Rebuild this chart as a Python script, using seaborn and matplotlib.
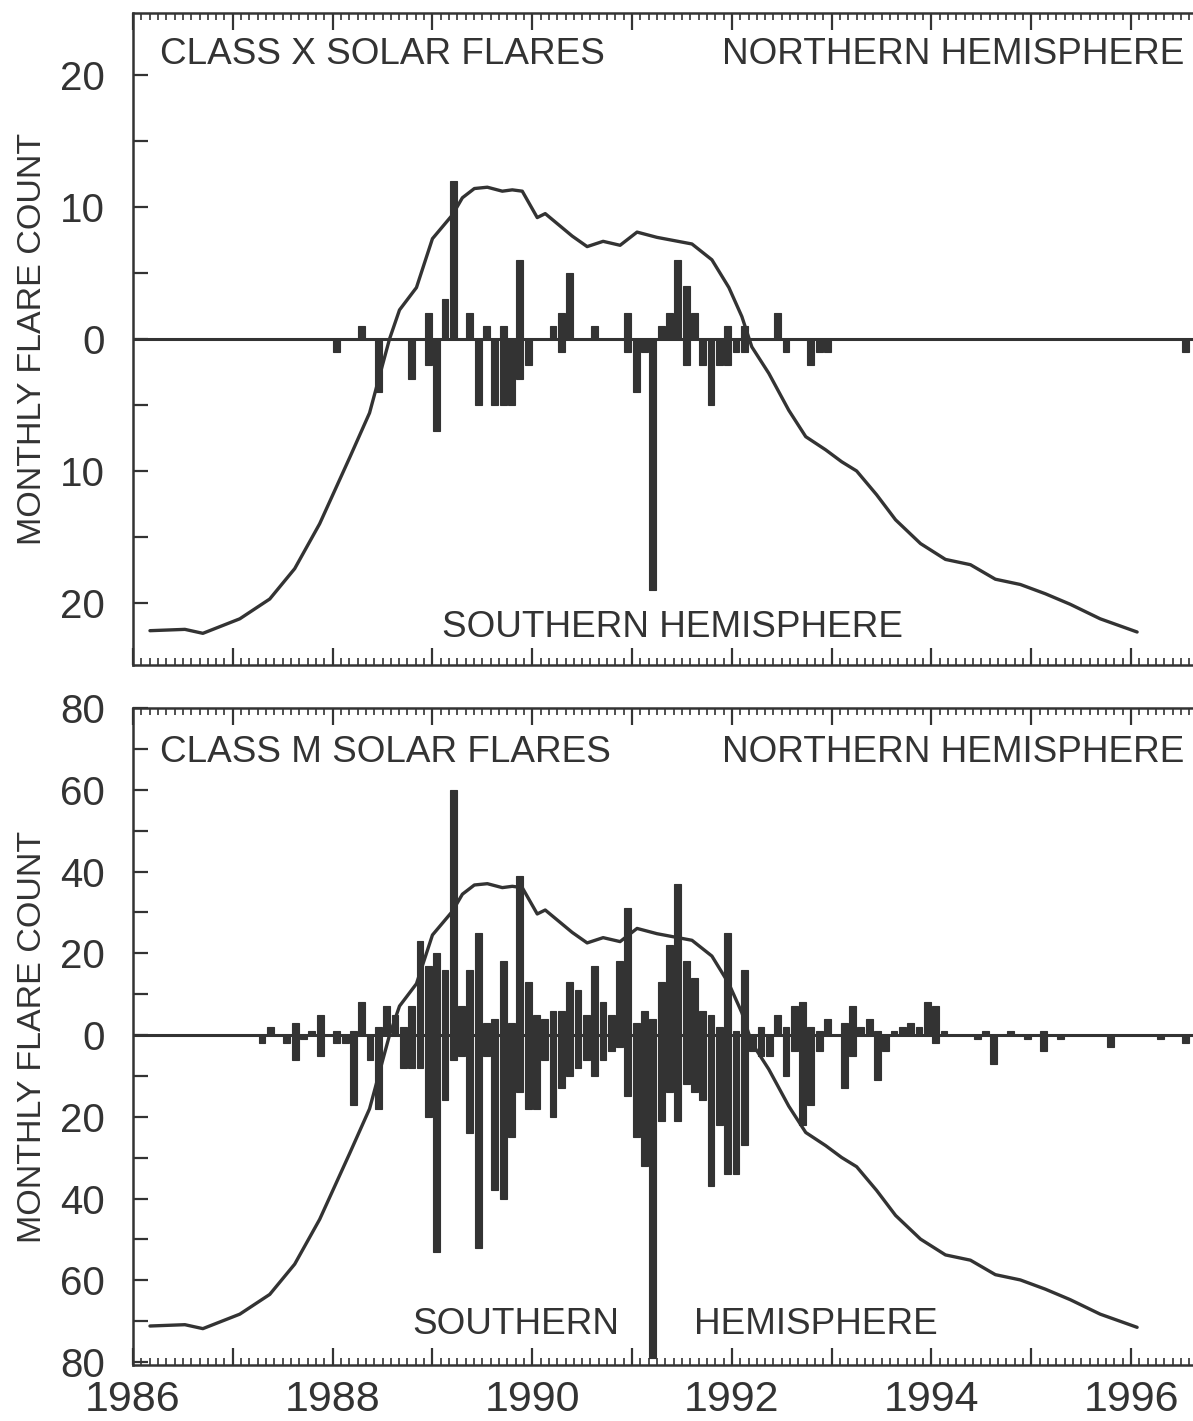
import matplotlib
matplotlib.use("Agg")
import matplotlib.pyplot as plt
from matplotlib.ticker import MultipleLocator, FuncFormatter
import seaborn as sns
import pandas as pd

# month index: 0 = Jan 1986
x_north_months = [27, 35, 37, 38, 40, 42, 44, 46, 50, 51, 52, 55, 59, 63, 64, 65, 66, 67, 71, 73, 77]
x_north_counts = [1, 2, 3, 12, 2, 1, 1, 6, 1, 2, 5, 1, 2, 1, 2, 6, 4, 2, 1, 1, 2]

x_south_months = [24, 29, 33, 35, 36, 41, 43, 44, 45, 46, 47, 51, 59, 60, 61, 62,
                  66, 68, 69, 70, 71, 72, 73, 78, 81, 82, 83, 126]
x_south_counts = [1, 4, 3, 2, 7, 5, 5, 5, 5, 3, 2, 1, 1, 4, 1, 19,
                  2, 2, 5, 2, 2, 1, 1, 1, 2, 1, 1, 1]

m_north_months = [16, 19, 21, 22, 24, 26, 27, 29, 30, 31, 32, 33, 34, 35, 36, 37, 38, 39, 40, 41,
                  42, 43, 44, 45, 46, 47, 48, 49, 50, 51, 52, 53, 54, 55, 56, 57, 58, 59, 60, 61,
                  62, 63, 64, 65, 66, 67, 68, 69, 70, 71, 72, 73, 75, 77, 78, 79, 80, 81, 82, 83,
                  85, 86, 87, 88, 89, 91, 92, 93, 94, 95, 96, 97, 102, 105, 109]
m_north_counts = [2, 3, 1, 5, 1, 1, 8, 2, 7, 5, 2, 7, 23, 17, 20, 16, 60, 7, 16, 25,
                  3, 4, 18, 3, 39, 13, 5, 4, 6, 6, 13, 11, 5, 17, 8, 5, 18, 31, 3, 6,
                  4, 13, 22, 37, 18, 14, 6, 5, 2, 25, 1, 16, 2, 5, 2, 7, 8, 2, 1, 4,
                  3, 7, 2, 4, 1, 1, 2, 3, 2, 8, 7, 1, 1, 1, 1]

m_south_months = [15, 18, 19, 20, 22, 24, 25, 26, 28, 29, 32, 33, 34, 35, 36, 37, 38, 39, 40, 41,
                  42, 43, 44, 45, 46, 47, 48, 49, 50, 51, 52, 53, 54, 55, 56, 57, 58, 59, 60, 61,
                  62, 63, 64, 65, 66, 67, 68, 69, 70, 71, 72, 73, 74, 75, 76, 78, 79, 80, 81, 82,
                  85, 86, 89, 90, 96, 101, 103, 107, 109, 111, 117, 123, 126]
m_south_counts = [2, 2, 6, 1, 5, 2, 2, 17, 6, 18, 8, 8, 8, 20, 53, 16, 6, 5, 24, 52,
                  5, 38, 40, 25, 14, 18, 18, 6, 20, 13, 10, 8, 6, 10, 6, 4, 3, 15, 25, 32,
                  79, 21, 14, 21, 12, 14, 16, 37, 22, 34, 34, 27, 4, 5, 5, 10, 4, 22, 17, 4,
                  13, 5, 11, 4, 2, 1, 7, 1, 4, 1, 3, 1, 2]

# smoothed sunspot curve, in units of the class X panel
curve_years = [1986.17, 1986.52, 1986.70, 1987.07, 1987.37, 1987.62, 1987.87, 1988.17, 1988.37,
               1988.57, 1988.67, 1988.84, 1989.0, 1989.2, 1989.3, 1989.42, 1989.55, 1989.7,
               1989.8, 1989.9, 1990.05, 1990.13, 1990.4, 1990.55, 1990.71, 1990.88, 1991.05,
               1991.25, 1991.6, 1991.8, 1991.97, 1992.1, 1992.2, 1992.37, 1992.57, 1992.74,
               1992.94, 1993.1, 1993.25, 1993.45, 1993.64, 1993.89, 1994.14, 1994.39, 1994.64,
               1994.89, 1995.14, 1995.39, 1995.69, 1996.06]
curve_vals = [-22.1, -22.0, -22.3, -21.2, -19.7, -17.4, -14.0, -9.0, -5.6,
              0.0, 2.2, 3.9, 7.6, 9.4, 10.7, 11.4, 11.5, 11.2,
              11.3, 11.2, 9.2, 9.5, 7.8, 7.0, 7.4, 7.1, 8.1,
              7.7, 7.2, 6.0, 3.9, 1.7, -0.6, -2.6, -5.4, -7.4,
              -8.4, -9.3, -10.0, -11.8, -13.7, -15.5, -16.7, -17.1, -18.2,
              -18.6, -19.3, -20.1, -21.2, -22.2]
m_curve_scale = 3.22

INK = "#333333"

sns.set_theme(style="ticks")
plt.rcParams["font.family"] = ["Liberation Sans", "DejaVu Sans"]


def month_df(months, counts, sign):
    return pd.DataFrame({"year": [1986 + (m + 0.5) / 12 for m in months],
                         "count": [sign * c for c in counts]})


def draw_panel(ax, north, south, scale, ylim, major, minor):
    for df in (north, south):
        sns.barplot(data=df, x="year", y="count", native_scale=True, width=0.82,
                    color=INK, saturation=1, edgecolor=INK, linewidth=0.8,
                    errorbar=None, ax=ax, zorder=2)
    sns.lineplot(x=curve_years, y=[v * scale for v in curve_vals], color=INK,
                 linewidth=2.4, ax=ax, zorder=3)
    ax.axhline(0, color=INK, lw=2.2, zorder=4)
    ax.set_xlim(1986, 1996.66)
    ax.set_ylim(*ylim)
    ax.xaxis.set_major_locator(MultipleLocator(1))
    ax.xaxis.set_minor_locator(MultipleLocator(1 / 12))
    ax.yaxis.set_major_locator(MultipleLocator(major))
    ax.yaxis.set_minor_locator(MultipleLocator(minor))
    ax.yaxis.set_major_formatter(FuncFormatter(lambda v, p: f"{abs(int(round(v)))}"))
    ax.tick_params(axis="both", which="both", direction="in", top=True, right=False,
                   colors=INK, labelcolor=INK)
    ax.tick_params(axis="x", which="major", length=12, width=1.6)
    ax.tick_params(axis="x", which="minor", length=5, width=1.2)
    ax.tick_params(axis="y", which="both", length=11, width=1.6, labelsize=29, pad=20)
    for s in ax.spines.values():
        s.set_color(INK)
        s.set_linewidth(1.8)
    ax.spines["right"].set_visible(False)
    ax.set_xlabel("")
    ax.set_ylabel("MONTHLY FLARE COUNT", fontsize=24.5, color=INK)
    ax.yaxis.set_label_coords(-0.08, 0.5)


fig = plt.figure(figsize=(11.93, 14.21), dpi=100)
ax1 = fig.add_axes([133 / 1193, 1 - 665 / 1421, 1064 / 1193, 652 / 1421])
ax2 = fig.add_axes([133 / 1193, 1 - 1365 / 1421, 1064 / 1193, 657 / 1421])

draw_panel(ax1, month_df(x_north_months, x_north_counts, 1),
           month_df(x_south_months, x_south_counts, -1), 1, (-24.7, 24.7), 10, 5)
draw_panel(ax2, month_df(m_north_months, m_north_counts, 1),
           month_df(m_south_months, m_south_counts, -1), m_curve_scale, (-80.7, 80), 20, 10)

ax1.tick_params(axis="x", labelbottom=False)
ax2.xaxis.set_major_formatter(FuncFormatter(
    lambda v, p: f"{int(round(v))}" if int(round(v)) % 2 == 0 else ""))
ax2.tick_params(axis="x", which="major", labelsize=31, pad=11)

tkw = dict(fontsize=26.6, color=INK, va="center")
ax1.text(0.0255, 0.936, "CLASS X SOLAR FLARES", transform=ax1.transAxes, ha="left", **tkw)
ax1.text(0.988, 0.936, "NORTHERN HEMISPHERE", transform=ax1.transAxes, ha="right", **tkw)
ax1.text(0.507, 0.057, "SOUTHERN HEMISPHERE", transform=ax1.transAxes, ha="center", **tkw)
ax2.text(0.0255, 0.933, "CLASS M SOLAR FLARES", transform=ax2.transAxes, ha="left", **tkw)
ax2.text(0.988, 0.933, "NORTHERN HEMISPHERE", transform=ax2.transAxes, ha="right", **tkw)
ax2.text(0.360, 0.061, "SOUTHERN", transform=ax2.transAxes, ha="center", **tkw)
ax2.text(0.6415, 0.061, "HEMISPHERE", transform=ax2.transAxes, ha="center", **tkw)

fig.savefig("out.png", dpi=100, facecolor="white")
